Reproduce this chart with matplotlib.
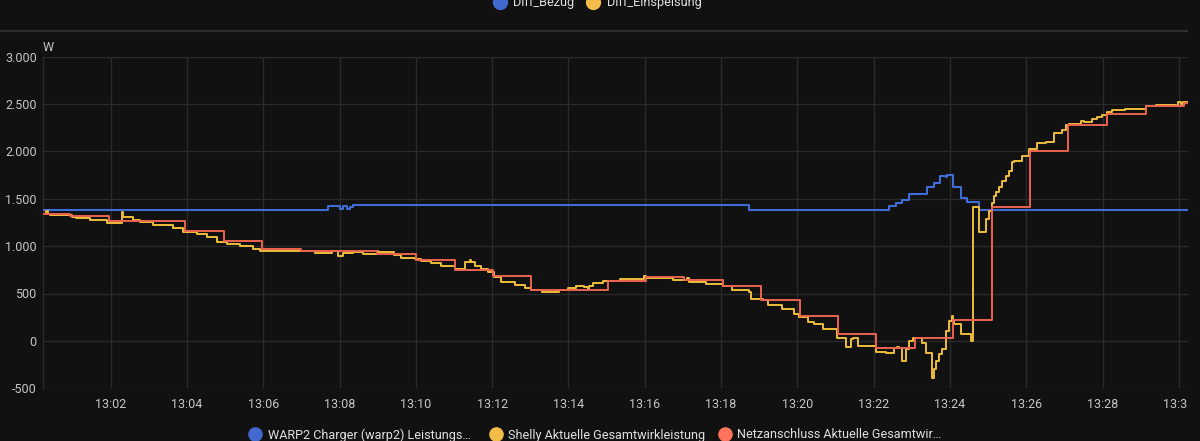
import matplotlib
matplotlib.use("Agg")
import matplotlib.pyplot as plt
from matplotlib.transforms import Bbox, TransformedBbox

plt.rcParams['font.family'] = ['Roboto', 'DejaVu Sans']

# ---------------- data (time in minutes after 13:00, power in W) ----------------
warp_t = [0.22, 7.69, 7.82, 8.00, 8.08, 8.19, 8.27, 8.35, 18.74, 22.40, 22.58, 22.75,
          22.93, 23.40, 23.58, 23.75, 23.89, 23.93, 24.08, 24.28, 24.45, 24.76, 30.24]
warp_w = [1385, 1420, 1427, 1390, 1425, 1395, 1415, 1432, 1385, 1420, 1450, 1487,
          1550, 1628, 1663, 1744, 1730, 1750, 1628, 1505, 1463, 1385, 1385]

shelly_t = [0.22, 0.30, 0.36, 0.41, 0.98, 1.10, 1.46, 1.90, 2.29, 2.32, 2.58, 2.77,
            3.11, 3.63, 3.89, 4.26, 4.52, 4.78, 5.05, 5.39, 5.73, 5.91, 6.96, 7.35,
            7.79, 7.96, 8.09, 8.35, 8.61, 8.97, 9.01, 9.44, 9.62, 9.97, 10.14, 10.41,
            10.67, 11.02, 11.28, 11.41, 11.45, 11.54, 11.71, 11.89, 12.06, 12.24, 12.59,
            12.85, 13.02, 13.30, 13.76, 13.98, 14.20, 14.42, 14.51, 14.55, 14.64, 14.70,
            14.90, 14.94, 15.34, 15.60, 15.99, 16.04, 16.73, 17.12, 17.17, 17.61, 18.04,
            18.30, 18.74, 18.78, 19.09, 19.22, 19.61, 19.90, 20.05, 20.27, 20.44, 20.66,
            21.05, 21.27, 21.40, 21.45, 21.58, 22.06, 22.32, 22.54, 22.62, 22.66, 22.75,
            22.84, 22.93, 23.02, 23.28, 23.37, 23.54, 23.58, 23.63, 23.72, 23.80, 23.89,
            23.98, 24.06, 24.09, 24.11, 24.28, 24.55, 24.61, 24.76, 24.94, 25.02, 25.11,
            25.15, 25.22, 25.29, 25.37, 25.46, 25.55, 25.63, 25.68, 25.90, 26.07, 26.29,
            26.51, 26.73, 26.94, 27.03, 27.12, 27.43, 27.51, 27.73, 27.86, 27.99, 28.12,
            28.25, 28.60, 29.13, 29.39, 29.92, 29.98, 30.05, 30.10, 30.24]
shelly_w = [1339, 1365, 1340, 1325, 1311, 1300, 1274, 1247, 1356, 1310, 1276, 1258,
            1226, 1191, 1147, 1128, 1094, 1046, 1025, 1001, 969, 951, 951, 925,
            951, 898, 925, 940, 920, 951, 933, 909, 877, 859, 842, 819,
            789, 756, 832, 853, 828, 787, 758, 729, 669, 624, 589,
            560, 536, 518, 536, 563, 581, 571, 546, 574, 616, 610,
            634, 637, 648, 655, 687, 666, 641, 660, 624, 602, 581,
            534, 511, 444, 430, 381, 338, 285, 254, 201, 176, 124,
            28, -63, 18, 28, -53, -120, -130, -70, -60, -70, -211,
            -88, 0, 35, -18, -124, -388, -300, -211, -141, -88, 106,
            211, 264, 211, 176, 70, 0, 1409, 1152, 1286, 1374, 1451,
            1533, 1575, 1628, 1691, 1744, 1797, 1885, 1895, 1955, 2019, 2086,
            2103, 2195, 2227, 2273, 2290, 2315, 2307, 2343, 2360, 2385, 2413,
            2438, 2449, 2477, 2491, 2480, 2520, 2500, 2520, 2516]

netz_t = [0.22, 0.93, 1.95, 3.96, 4.97, 5.98, 6.98, 8.97, 10.01, 11.02, 12.02, 13.02,
          15.03, 16.04, 17.04, 18.04, 19.06, 20.06, 21.07, 22.07, 23.09, 24.08, 25.09,
          26.10, 27.10, 28.12, 29.14, 30.13, 30.24]
netz_w = [1340, 1314, 1265, 1155, 1050, 969, 946, 916, 856, 747, 687, 539,
          634, 678, 641, 581, 436, 264, 70, -70, 28, 222, 1416,
          2001, 2280, 2389, 2473, 2508, 2508]

x_ticks = [2, 4, 6, 8, 10, 12, 14, 16, 18, 20, 22, 24, 26, 28, 30]
x_labels = ["13:02", "13:04", "13:06", "13:08", "13:10", "13:12", "13:14", "13:16",
            "13:18", "13:20", "13:22", "13:24", "13:26", "13:28", "13:30"]
y_ticks = [-500, 0, 500, 1000, 1500, 2000, 2500, 3000]
y_labels = ["-500", "0", "500", "1.000", "1.500", "2.000", "2.500", "3.000"]

series_names = ["WARP2 Charger (warp2) Leistungs…", "Shelly Aktuelle Gesamtwirkleistung",
                "Netzanschluss Aktuelle Gesamtwir…"]
top_names = ["Diff_Bezug", "Diff_Einspeisung"]

BLUE, YELLOW, RED = "#4269d0", "#f4bd4a", "#ff725c"
LINE_BLUE, LINE_YELLOW, LINE_RED = "#3f6cd6", "#efbd3c", "#ec6350"
BG = "#111111"
GRID = "#2a2a2a"
TICK = "#c6c6c6"
LEG = "#e1e1e1"

# ---------------- figure ----------------
W, H = 1200, 441
fig = plt.figure(figsize=(W / 100, H / 100), dpi=100, facecolor=BG)
ax_l, ax_r, ax_t, ax_b = 42.7, 1188, 56.5, 388.3
ax = fig.add_axes([ax_l / W, 1 - ax_b / H, (ax_r - ax_l) / W, (ax_b - ax_t) / H])
ax.set_facecolor(BG)

ax.plot(warp_t, warp_w, drawstyle='steps-post', color=LINE_BLUE, lw=1.5, zorder=3)
ax.plot(shelly_t, shelly_w, drawstyle='steps-post', color=LINE_YELLOW, lw=1.4, zorder=4)
ax.plot(netz_t, netz_w, drawstyle='steps-post', color=LINE_RED, lw=1.4, zorder=5)

ax.set_xlim(0.22, 30.24)
ax.set_ylim(-500, 3000)
ax.set_xticks(x_ticks)
xl = ax.set_xticklabels(x_labels)
ax.set_yticks(y_ticks)
ax.set_yticklabels(y_labels)
ax.grid(True, color=GRID, lw=1.0)
ax.tick_params(axis='both', length=0, colors=TICK, labelsize=9)
ax.tick_params(axis='x', pad=7)
ax.tick_params(axis='y', pad=4.3)
for s in ['top', 'right', 'bottom']:
    ax.spines[s].set_visible(False)
ax.spines['left'].set_color(GRID)
ax.spines['left'].set_linewidth(1.0)

clip = TransformedBbox(Bbox.from_extents(0, 0, ax_r / W, 1), fig.transFigure)
for lab in xl:
    lab.set_clip_on(True)
    lab.set_clip_box(clip)

# ---------------- overlay in pixel coordinates ----------------
ov = fig.add_axes([0, 0, 1, 1], facecolor='none')
ov.set_xlim(0, W)
ov.set_ylim(H, 0)
ov.axis('off')

ov.plot([0, 1188], [31, 31], color="#2e2e2e", lw=1.6, solid_capstyle='butt')
ov.text(43, 51, "W", color=TICK, fontsize=9, ha='left', va='baseline')

# top legend (cut at top edge, as in the reference)
for cx, tx, c, name in [(500, 513, BLUE, top_names[0]), (593, 607, YELLOW, top_names[1])]:
    ov.plot([cx], [2], 'o', ms=11, color=c, mec='none')
    ov.text(tx, 6, name, color=LEG, fontsize=9.2, ha='left', va='baseline')

# bottom legend
for cx, tx, c, name in [(255, 268, BLUE, series_names[0]), (496, 508, YELLOW, series_names[1]),
                        (725, 737, RED, series_names[2])]:
    ov.plot([cx], [434], 'o', ms=10.5, color=c, mec='none')
    ov.text(tx, 438.5, name, color=LEG, fontsize=9.1, ha='left', va='baseline')

fig.savefig("out.png", dpi=100, facecolor=BG)
